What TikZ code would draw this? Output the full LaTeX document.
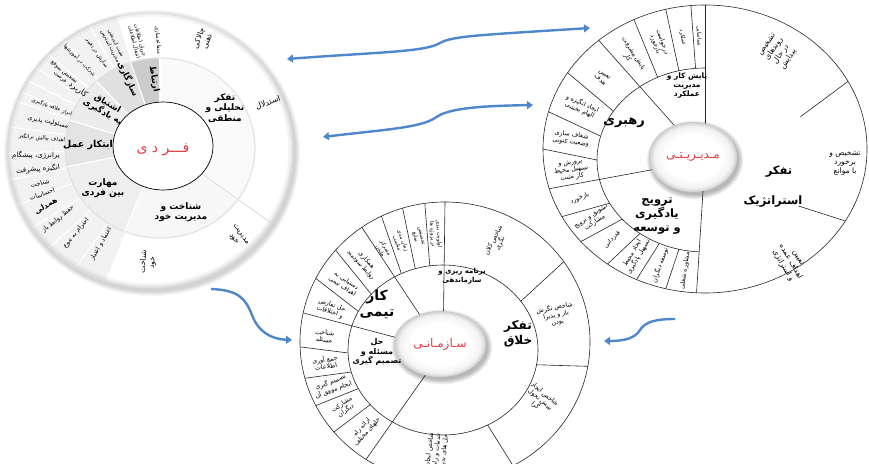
\documentclass[tikz,border=0pt]{standalone}
\usepackage{fontspec}
\setmainfont{DejaVu Sans}
\newfontfamily\fa[Script=Arabic]{DejaVu Sans}
\TeXXeTstate=1
\usetikzlibrary{arrows.meta}
\newcommand\RL[1]{\beginR#1\endR}
\definecolor{arrowblue}{RGB}{79,135,204}
\definecolor{ctrred}{RGB}{226,60,70}
\pgfdeclareradialshading{discsh}{\pgfpointorigin}{color(0bp)=(white); color(16bp)=(white); color(22bp)=(gray!10); color(25bp)=(gray!40); color(50bp)=(gray!40)}
\tikzset{
 olab/.style={font=\fa\fontsize{6.3}{7.3}\selectfont, align=center, inner sep=0pt},
 ilab/.style={font=\fa\fontsize{5.4}{6.3}\selectfont, align=center, inner sep=0pt},
 olabb/.style={font=\fa\fontsize{7.5}{8.8}\selectfont, align=center, inner sep=0pt},
 mlab/.style={font=\fa\bfseries\fontsize{9}{10.5}\selectfont, align=center, inner sep=0pt},
 slab/.style={font=\fa\bfseries\fontsize{7}{8.5}\selectfont, align=center, inner sep=0pt},
 blab/.style={font=\fa\bfseries\fontsize{11.5}{14}\selectfont, align=center, inner sep=0pt},
 ctr/.style={font=\fa\fontsize{12}{13}\selectfont, text=ctrred, inner sep=0pt},
 ring/.style={line width=0.6pt, draw=black!85},
 flow/.style={draw=arrowblue, line width=2.4pt, {Triangle[width=8pt,length=6pt]}-{Triangle[width=8pt,length=6pt]}},
 flowone/.style={draw=arrowblue, line width=2.4pt, -{Triangle[width=8pt,length=6pt]}},
}
\newcommand\olabel[6]{%
 \pgfmathsetmacro\rot{cos(#3)>-0.001 ? #3 : #3-180}%
 \node[#1, rotate=\rot] (#2) at (#3:#4 and #5) {#6};}
\begin{document}
\begin{tikzpicture}[x=1pt,y=1pt]
\path[use as bounding box] (0,0) rectangle (869,-463);
\clip (0,0) rectangle (869,-463);
\fill[white] (0,0) rectangle (869,-463);

% ================= LEFT CIRCLE =================
\begin{scope}[shift={(150,-150)}]
 \foreach \k in {1,...,5} \fill[black, opacity=0.035] (2,-3) ellipse [x radius=143+\k, y radius=138+\k];
 \fill[white] (0,0) ellipse [x radius=143, y radius=138];
 \begin{scope}
  \clip (0,0) ellipse [x radius=143, y radius=138];
  \fill[gray!10] (10,2) -- ([shift={(10,2)}]108:230) arc[start angle=108, end angle=248, radius=230] -- cycle;
  \foreach \t in {100,108,120,132,140,147,153,158,162,172,182,192,202,212,222,235,248,325,90}
    \draw[white, line width=1.2pt] (10,2) -- ([shift={(10,2)}]\t:230);
  \draw[gray!60, line width=9pt, opacity=.15] (0,0) ellipse [x radius=143, y radius=138];
  \draw[gray!60, line width=4pt, opacity=.25] (0,0) ellipse [x radius=143, y radius=138];
 \end{scope}
 \begin{scope}[shift={(10,2)}]
  \fill[gray!40] (0,0) -- (90:95 and 90) arc[start angle=90,end angle=108,x radius=95,y radius=90] -- cycle;
  \fill[gray!24] (0,0) -- (108:95 and 90) arc[start angle=108,end angle=132,x radius=95,y radius=90] -- cycle;
  \fill[gray!15] (0,0) -- (132:95 and 90) arc[start angle=132,end angle=162,x radius=95,y radius=90] -- cycle;
  \fill[gray!21] (0,0) -- (162:95 and 90) arc[start angle=162,end angle=192,x radius=95,y radius=90] -- cycle;
  \fill[gray!13] (0,0) -- (192:95 and 90) arc[start angle=192,end angle=248,x radius=95,y radius=90] -- cycle;
  \fill[gray!6] (0,0) -- (248:95 and 90) arc[start angle=248,end angle=325,x radius=95,y radius=90] -- cycle;
  \fill[gray!4] (0,0) -- (325:95 and 90) arc[start angle=325,end angle=450,x radius=95,y radius=90] -- cycle;
  \draw[gray!25, line width=1.5pt, opacity=.7] (0,0) ellipse [x radius=95, y radius=90];
  \foreach \t in {90,108,132,162,192,248,325}
    \draw[white, line width=1.2pt] (0,0) -- (\t:95 and 90);
  \draw[gray!35, line width=.6pt] (325:50 and 44) -- (325:143 and 138);
 \end{scope}
 \draw[fill=white, line width=.7pt] (13,4) ellipse [x radius=50, y radius=44];
\end{scope}
\node[ctr, font=\fa\fontsize{14}{15}\selectfont] (fCenter) at (163,-150) {\RL{فـــر د ی}};
\node[mlab] (fTafakkor) at (225,-108) {\RL{تفکر}\\\RL{تحلیلی و}\\\RL{منطقی}};
\node[mlab] (fShenakht) at (181,-212) {\RL{شناخت و}\\\RL{مدیریت خود}};
\node[mlab] (fMaharat) at (103,-188) {\RL{مهارت}\\\RL{بین فردی}};
\node[mlab, font=\fa\bfseries\fontsize{9.5}{11}\selectfont] (fEbtekar) at (88,-145) {\RL{ابتکار عمل}};
\node[mlab, font=\fa\bfseries\fontsize{8.5}{10}\selectfont, rotate=-30] (fEshtiagh) at (105,-108) {\RL{اشتیاق}\\\RL{به یادگیری}};
\node[mlab, font=\fa\bfseries\fontsize{8.5}{10}\selectfont, rotate=-65] (fSazgari) at (128,-79) {\RL{سازگاری}};
\node[mlab, font=\fa\bfseries\fontsize{8.5}{10}\selectfont, rotate=-80] (fErtebat) at (154,-79) {\RL{ارتباط}};
\node[olabb, rotate=70] (fo1) at (203,-40) {\RL{چالاکی}\\\RL{ذهنی}};
\node[olabb, font=\fa\fontsize{8}{9}\selectfont, rotate=20] (fo2) at (268,-103) {\RL{استدلال}};
\node[olabb, rotate=-55] (fo3) at (237,-237) {\RL{مدیریت}\\\RL{خود}};
\node[olabb, rotate=85] (fo4) at (148,-262) {\RL{شناخت}\\\RL{خود}};
\node[olab, rotate=60] (fo5) at (101,-244) {\RL{اعتماد و اعتبار}};
\node[olab, rotate=50] (fo6) at (76,-233) {\RL{احترام به تنوع}};
\node[olab, rotate=40] (fo7) at (58,-219) {\RL{حفظ روابط باز}};
\node[olab, font=\fa\bfseries\fontsize{7.5}{8}\selectfont, rotate=30] (fo8) at (46,-206) {\RL{همدلی}};
\node[olab, rotate=20] (fo9) at (42,-194) {\RL{احساسات}};
\node[olab, rotate=12] (fo10) at (40,-183) {\RL{شناخت}};
\node[olab, font=\fa\fontsize{7}{8}\selectfont, rotate=5] (fo11) at (38,-169) {\RL{انگیزه پیشرفت}};
\node[olab, font=\fa\fontsize{7}{8}\selectfont, rotate=0] (fo12) at (36,-155) {\RL{پرانرژی، پیشگام}};
\node[ilab, rotate=-5] (fo13) at (42,-138) {\RL{اهداف چالش برانگیز}};
\node[olab, rotate=-12] (fo14) at (48,-122) {\RL{مسئولیت پذیری}};
\node[ilab, rotate=-20] (fo15) at (52,-107) {\RL{ابراز علاقه یادگیری}};
\node[olab, font=\fa\fontsize{8}{9}\selectfont, rotate=-35] (fo16) at (78,-90) {\RL{کاربرد}};
\node[ilab, rotate=-40] (fo17) at (62,-75) {\RL{تشخیص بموقع}\\\RL{فرصت}};
\node[ilab, rotate=-45] (fo18) at (80,-60) {\RL{شرکت در آموزشها}};
\node[ilab, rotate=-55] (fo19) at (97,-53) {\RL{سازش در تغییر}};
\node[ilab, rotate=-63] (fo20) at (113,-45) {\RL{مثبت اندیشی}\\\RL{مدیریت استرس}};
\node[ilab, rotate=-75] (fo21) at (137,-41) {\RL{جریان اطلاعات}\\\RL{انتقال اطلاعات}};
\node[ilab, rotate=-85] (fo22) at (158,-40) {\RL{متقاعدسازی}};

% ================= RIGHT CIRCLE =================
\begin{scope}[shift={(705,-149)}]
 \draw[ring, fill=white] (0,0) ellipse [x radius=162, y radius=144];
 \draw[ring] ([shift={(0,-11)}]90:108 and 92) arc[start angle=90, end angle=267, x radius=108, y radius=92];
 \foreach \t in {95,104,116,148,165,180,208,220,233,245,256,330,28}
   \draw[ring] ([shift={(0,-11)}]\t:108 and 92) -- (\t:162 and 144);
 \foreach \t in {90,131,196,267}
   \draw[ring] (0,-11) -- (\t:162 and 144);
 \begin{scope}[shift={(-12,-8)}]
   \foreach \k in {1,...,6} \fill[black, opacity=0.05] (2,-3) ellipse [x radius=43+\k*0.9, y radius=34+\k*0.9];
   \shade[shading=discsh] (0,0) ellipse [x radius=44, y radius=35];
 \end{scope}
 \begin{scope}[shift={(0,-5)}]
  \olabel{ilab}{m1}{92.5}{135}{118}{\RL{شناسایی}}
  \olabel{ilab}{m2}{99.5}{135}{118}{\RL{عملکرد}}
  \olabel{olab}{m3}{110}{135}{118}{\RL{درخواست}\\\RL{بازخورد}}
  \olabel{olab}{m4}{123.5}{135}{118}{\RL{پایش پیشرفت}\\\RL{کار}}
  \olabel{olab}{m5}{139.5}{135}{118}{\RL{تعیین}\\\RL{هدف}}
  \olabel{olab}{m6}{156.5}{135}{118}{\RL{ایجاد انگیزه و}\\\RL{الهام بخشی}}
  \olabel{olab}{m7}{172.5}{135}{118}{\RL{شفاف سازی}\\\RL{وضعیت کنونی}}
  \olabel{olab}{m8}{188}{135}{118}{\RL{پرورش و}\\\RL{تسهیل محیط}\\\RL{کار مثبت}}
  \olabel{olab}{m9}{202}{135}{118}{\RL{بازخورد}}
  \olabel{olab}{m10}{214}{135}{118}{\RL{تشویق و ترویج}\\\RL{مشارکت}}
  \olabel{olab}{m11}{226.5}{135}{118}{\RL{قدردانی}}
  \olabel{olab}{m12}{239}{135}{118}{\RL{ایجاد محیط}\\\RL{تسهیل یادگیری}}
  \olabel{olab}{m13}{250.5}{135}{118}{\RL{توسعه دیگران}}
  \olabel{olab}{m14}{261.5}{135}{118}{\RL{مشاوره شغلی}}
 \end{scope}
\end{scope}
\node[olabb, rotate=55] (m15) at (778,-52) {\RL{تشخیص}\\\RL{روندهای}\\\RL{در حال}\\\RL{پیدایش}};
\node[olabb] (m16) at (845,-163) {\RL{تشخیص و}\\\RL{برخورد}\\\RL{با موانع}};
\node[olabb, rotate=-60] (m17) at (790,-262) {\RL{تعیین}\\\RL{اهداف عمده}\\\RL{و استراتژی}};
\node[ctr] (mCenter) at (693,-157) {\RL{مـدیـریـتـی}};
\node[slab, font=\fa\bfseries\fontsize{7.5}{9}\selectfont] (mPayesh) at (687,-86) {\RL{پایش کار و}\\\RL{مدیریت}\\\RL{عملکرد}};
\node[blab, font=\fa\bfseries\fontsize{13}{15}\selectfont] (mRahbari) at (624,-123) {\RL{رهبری}};
\node[blab] (mTarvij) at (657,-216) {\RL{ترویج}\\\RL{یادگیری}\\\RL{و توسعه}};
\node[blab] (mTafakkor) at (779,-172) {\RL{تفکر}};
\node[blab] (mEstrategic) at (773,-202) {\RL{استراتژیک}};

% ================= BOTTOM CIRCLE =================
\begin{scope}[shift={(445,-342)}]
 \draw[ring, fill=white] (0,0) ellipse [x radius=145, y radius=140];
 \draw[ring] (-2,-8) ellipse [x radius=95, y radius=85];
 \foreach \t in {98,107,116,139,153,182,195,207,220,298,350,35}
   \draw[ring] ([shift={(-2,-8)}]\t:95 and 85) -- (\t:145 and 140);
 \foreach \t in {90,125,168,237}
   \draw[ring] (-2,-8) -- (\t:145 and 140);
 \begin{scope}[shift={(-5,-2)}]
   \foreach \k in {1,...,6} \fill[black, opacity=0.05] (2,-3) ellipse [x radius=45+\k*0.9, y radius=32+\k*0.9];
   \shade[shading=discsh] (0,0) ellipse [x radius=46, y radius=33];
 \end{scope}
 \begin{scope}[shift={(-1,-4)}]
  \olabel{ilab}{s1}{94}{120}{112}{\RL{اولویت بندی}\\\RL{در پروژه ها}}
  \olabel{ilab}{s2}{102.5}{120}{112}{\RL{تخصیص}\\\RL{منابع}}
  \olabel{ilab}{s3}{111.5}{120}{112}{\RL{زمان بندی}\\\RL{مناسب}}
  \olabel{ilab}{s4}{120.5}{120}{112}{\RL{متمرکز}\\\RL{ماندن}}
  \olabel{olab}{s5}{132}{120}{112}{\RL{همکاری}\\\RL{روابط سودمند}}
  \olabel{olab}{s6}{146}{120}{112}{\RL{دستیابی به}\\\RL{اهداف تیمی}}
  \olabel{olab}{s7}{160.5}{120}{112}{\RL{حل تعارض}\\\RL{و اختلافات}}
  \olabel{olab}{s8}{175}{120}{112}{\RL{شناخت}\\\RL{مسئله}}
  \olabel{olab}{s9}{188.5}{120}{112}{\RL{جمع آوری}\\\RL{اطلاعات}}
  \olabel{olab}{s10}{201}{120}{112}{\RL{تصمیم گیری}\\\RL{انجام موفق آن}}
  \olabel{olab}{s11}{213.5}{120}{112}{\RL{مشارکت}\\\RL{دیگران}}
  \olabel{olab}{s12}{228.5}{120}{112}{\RL{ارائه راه}\\\RL{حلهای مختلف}}
 \end{scope}
\end{scope}
\node[olab, rotate=63] (s13) at (497,-242) {\RL{شاخص کلان}\\\RL{نگری}};
\node[olab, rotate=12] (s14) at (556,-315) {\RL{شاخص نگرش}\\\RL{باز و پذیرا}\\\RL{بودن}};
\node[olab, rotate=-40] (s15) at (540,-400) {\RL{شاخص ایجاد}\\\RL{بینش تحول}\\\RL{گرا}};
\node[olab, rotate=83] (s16) at (437,-450) {\RL{شاخص ایجاد}\\\RL{خدمات و راه}\\\RL{حل های بدیع}};
\node[ctr] (sCenter) at (440,-344) {\RL{سـازمـانـی}};
\node[slab] (sBarname) at (462,-276) {\RL{برنامه ریزی و}\\\RL{سازماندهی}};
\node[blab, font=\fa\bfseries\fontsize{14}{16}\selectfont] (sKar) at (377,-304) {\RL{کار}\\\RL{تیمی}};
\node[slab, font=\fa\bfseries\fontsize{8}{9.5}\selectfont] (sHal) at (377,-352) {\RL{حل}\\\RL{مسئله و}\\\RL{تصمیم گیری}};
\node[blab, font=\fa\bfseries\fontsize{12}{15}\selectfont] (sTafakkor) at (518,-334) {\RL{تفکر}\\\RL{خلاق}};

% ================= ARROWS =================
\coordinate (a1s) at (287,-59);
\coordinate (a1e) at (590,-28);
\draw[flow] (a1s) .. controls (380,-52) and (425,-52) .. (440,-43) .. controls (452,-36) and (480,-35) .. (a1e);
\coordinate (a2s) at (323,-137);
\coordinate (a2e) at (533,-105);
\draw[flow] (a2s) .. controls (380,-130) and (420,-128) .. (435,-118) .. controls (448,-108) and (480,-106) .. (a2e);
\coordinate (a3s) at (211,-289);
\coordinate (a3e) at (292,-340);
\draw[flowone] (a3s) .. controls (240,-290) and (246,-300) .. (252,-315) .. controls (258,-331) and (270,-339) .. (a3e);
\coordinate (a4s) at (675,-319);
\coordinate (a4e) at (604,-341);
\draw[flowone] (a4s) .. controls (655,-319) and (645,-322) .. (640,-330) .. controls (635,-338) and (625,-341) .. (a4e);
\end{tikzpicture}
\end{document}
